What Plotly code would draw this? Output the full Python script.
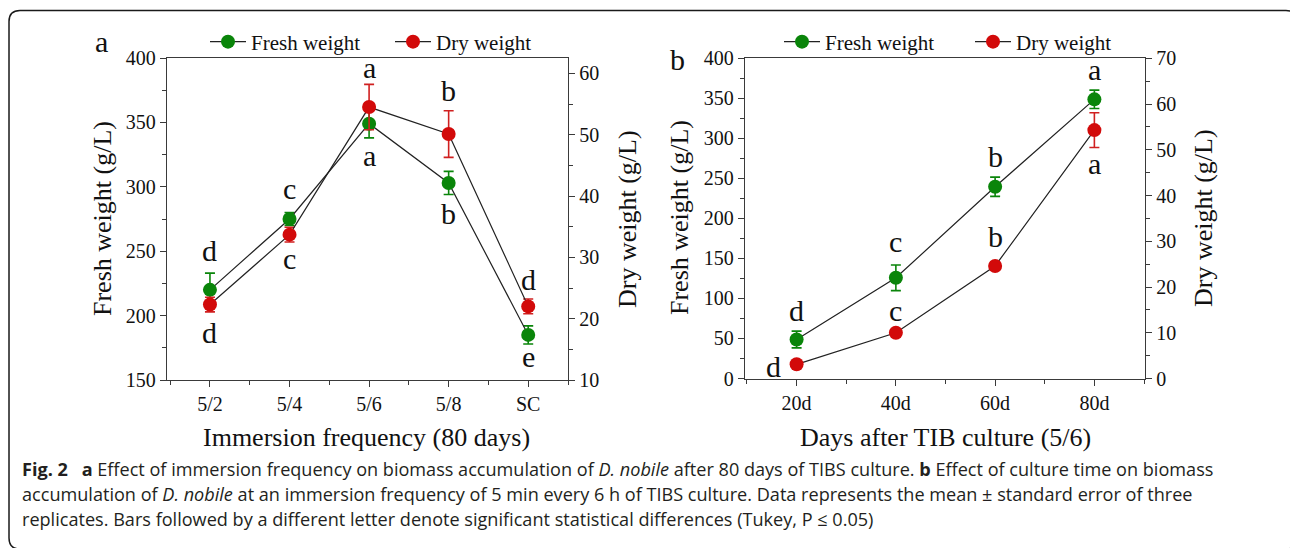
import plotly.graph_objects as go

# ---------------- data ----------------
freq_cats = ["5/2", "5/4", "5/6", "5/8", "SC"]
fresh_a = [220, 275, 349, 303, 185]
fresh_a_err = [13, 5, 11, 9, 7]
dry_a = [22.3, 33.7, 54.5, 50.1, 22.0]
dry_a_err = [1.2, 1.2, 3.7, 3.8, 1.2]
fresh_a_letters = ["d", "c", "a", "b", "e"]
dry_a_letters = ["d", "c", "a", "b", "d"]

day_cats = ["20d", "40d", "60d", "80d"]
fresh_b = [48.7, 125.8, 239.5, 348.7]
fresh_b_err = [10.5, 16, 12, 11.5]
dry_b = [3.1, 10.0, 24.6, 54.3]
dry_b_err = [0.6, 0.6, 0.9, 3.8]
fresh_b_letters = ["d", "c", "b", "a"]
dry_b_letters = ["d", "c", "b", "a"]

# ---------------- style ----------------
W, H = 1290, 548
GREEN = "#0a850a"
RED = "#d20a0a"
LINE = "#222222"
AXC = "#3a3a3a"
SERIF = "Liberation Serif"
SANS = "Open Sans"


def px(x):
    return x / W


def py(y):
    return 1 - y / H


fig = go.Figure()


def add_pair(xcats, fresh, ferr, dry, derr, xa, ya, ya2, leg):
    xs = list(range(len(xcats)))
    fig.add_trace(go.Scatter(
        x=xs, y=fresh, mode="lines+markers", name="Fresh weight",
        line=dict(color=LINE, width=1.2),
        marker=dict(color=GREEN, size=14),
        error_y=dict(type="data", array=ferr, color=GREEN, thickness=1.6, width=5),
        xaxis=xa, yaxis=ya, legend=leg, cliponaxis=False))
    fig.add_trace(go.Scatter(
        x=xs, y=dry, mode="lines+markers", name="Dry weight",
        line=dict(color=LINE, width=1.2),
        marker=dict(color=RED, size=14),
        error_y=dict(type="data", array=derr, color="#d02020", thickness=1.6, width=5),
        xaxis=xa, yaxis=ya2, legend=leg, cliponaxis=False))


add_pair(freq_cats, fresh_a, fresh_a_err, dry_a, dry_a_err, "x", "y", "y2", "legend")
add_pair(day_cats, fresh_b, fresh_b_err, dry_b, dry_b_err, "x2", "y3", "y4", "legend2")

tickfont = dict(family=SERIF, size=20, color="#111")
common = dict(showline=True, linecolor=AXC, linewidth=1.3, ticks="outside",
              ticklen=6, tickwidth=1.3, tickcolor=AXC, showgrid=False,
              zeroline=False, tickfont=tickfont, automargin=False)


def xaxis_cfg(cats, rng, dom, anchor):
    n = len(cats)
    return dict(common, domain=dom, anchor=anchor, range=rng,
                tickmode="array", tickvals=list(range(n)), ticktext=cats,
                mirror=True,
                minor=dict(tickmode="array", tickvals=[i - 0.5 for i in range(n + 1)],
                           ticks="outside", ticklen=4, tickwidth=1.3, tickcolor=AXC))


def yaxis_cfg(rng, dtick, tick0, dom, anchor, side="left", overlay=None):
    d = dict(common, domain=dom, anchor=anchor, range=rng, side=side,
             tickmode="linear", tick0=tick0, dtick=dtick,
             minor=dict(tickmode="linear", tick0=tick0, dtick=dtick / 2,
                        ticks="outside", ticklen=4, tickwidth=1.3, tickcolor=AXC))
    if overlay:
        d["overlaying"] = overlay
    return d


dom_a_x = [px(167), px(568)]
dom_a_y = [py(380), py(58)]
dom_b_x = [px(745), px(1145)]
dom_b_y = [py(378.5), py(58.3)]

fig.update_layout(
    xaxis=xaxis_cfg(freq_cats, [-0.54, 4.5], dom_a_x, "y"),
    yaxis=yaxis_cfg([150, 400], 50, 150, dom_a_y, "x"),
    yaxis2=yaxis_cfg([10, 62.5], 10, 10, dom_a_y, "x", side="right", overlay="y"),
    xaxis2=xaxis_cfg(day_cats, [-0.52, 3.51], dom_b_x, "y3"),
    yaxis3=yaxis_cfg([0, 400], 50, 0, dom_b_y, "x2"),
    yaxis4=yaxis_cfg([0, 70], 10, 0, dom_b_y, "x2", side="right", overlay="y3"),
)

legfont = dict(family=SERIF, size=21, color="#111")
fig.update_layout(
    legend=dict(orientation="h", x=px(205), y=py(42), xanchor="left", yanchor="middle",
                font=legfont, bgcolor="rgba(0,0,0,0)", entrywidth=134,
                entrywidthmode="pixels", itemwidth=36),
    legend2=dict(orientation="h", x=px(779), y=py(42), xanchor="left", yanchor="middle",
                 font=legfont, bgcolor="rgba(0,0,0,0)", entrywidth=140,
                 entrywidthmode="pixels", itemwidth=36),
)

# ---------------- significance letters ----------------
letter_font = dict(family=SERIF, size=30, color="#111")
XH = {"a", "c", "e"}  # x-height glyphs sit lower than box centre


def letters(labels, vals, offsets, xa, ya, dxs=None):
    for i, (lab, v, off) in enumerate(zip(labels, vals, offsets)):
        corr = 3.4 if lab in XH else 0.0
        fig.add_annotation(x=i, y=v, xref=xa, yref=ya, text=lab, showarrow=False,
                           font=letter_font, xanchor="center", yanchor="middle",
                           yshift=-off + corr, xshift=(dxs[i] if dxs else 0))


# visual offsets in px (positive = below the point)
letters(fresh_a_letters, fresh_a, [-39, -27, 35, 31, 25], "x", "y")
letters(dry_a_letters, dry_a, [28, 27, -36, -44, -27], "x", "y2")
letters(fresh_b_letters, fresh_b, [-29, -33, -30, -26], "x2", "y3")
letters(dry_b_letters, dry_b, [2, -19, -29, 37], "x2", "y4", dxs=[-23, 0, 0, 0])

# ---------------- axis titles & panel labels ----------------
tfont = dict(family=SERIF, size=26, color="#111")


def ptext(x, y, t, font, angle=0, xanchor="center"):
    fig.add_annotation(x=px(x), y=py(y), xref="paper", yref="paper", text=t,
                       showarrow=False, font=font, textangle=angle,
                       xanchor=xanchor, yanchor="middle")


ptext(102, 219, "Fresh weight (g/L)", tfont, -90)
ptext(627, 219, "Dry weight (g/L)", tfont, -90)
ptext(366, 437, "Immersion frequency (80 days)", tfont)
ptext(679, 218, "Fresh weight (g/L)", tfont, -90)
ptext(1203, 218, "Dry weight (g/L)", tfont, -90)
ptext(945, 437, "Days after TIB culture (5/6)", tfont)

ptext(101.7, 41.6, "a", letter_font)
ptext(677, 60, "b", letter_font)

# ---------------- caption ----------------
cfont = dict(family=SANS, size=18.1, color="#231f20")
cap1 = ("<b>Fig. 2</b>\u2002 <b>a</b> Effect of immersion frequency on biomass accumulation of "
        "<i>D. nobile</i> after 80 days of TIBS culture. <b>b</b> Effect of culture time on biomass")
cap2 = ("accumulation of <i>D. nobile</i> at an immersion frequency of 5 min every 6 h of TIBS "
        "culture. Data represents the mean ± standard error of three")
cap3 = ("replicates. Bars followed by a different letter denote significant statistical "
        "differences (Tukey, P ≤ 0.05)")
ptext(20, 469, cap1, cfont, xanchor="left")
ptext(20, 494, cap2, cfont, xanchor="left")
ptext(20, 519, cap3, cfont, xanchor="left")

# ---------------- rounded frame ----------------
L, R, T, B, r = 9, 1297, 10.5, 549, 11


def P(x, y):
    return f"{px(x):.5f},{py(y):.5f}"


path = (f"M {P(L + r, T)} L {P(R - r, T)} Q {P(R, T)} {P(R, T + r)} "
        f"L {P(R, B - r)} Q {P(R, B)} {P(R - r, B)} L {P(L + r, B)} "
        f"Q {P(L, B)} {P(L, B - r)} L {P(L, T + r)} Q {P(L, T)} {P(L + r, T)} Z")
fig.add_shape(type="path", path=path, xref="paper", yref="paper",
              line=dict(color="#1a1a1a", width=1.5), fillcolor="rgba(0,0,0,0)")

fig.update_layout(
    width=W, height=H, margin=dict(l=0, r=0, t=0, b=0),
    paper_bgcolor="white", plot_bgcolor="white",
    font=dict(family=SERIF, color="#111"),
)

fig.write_html("out.html")
